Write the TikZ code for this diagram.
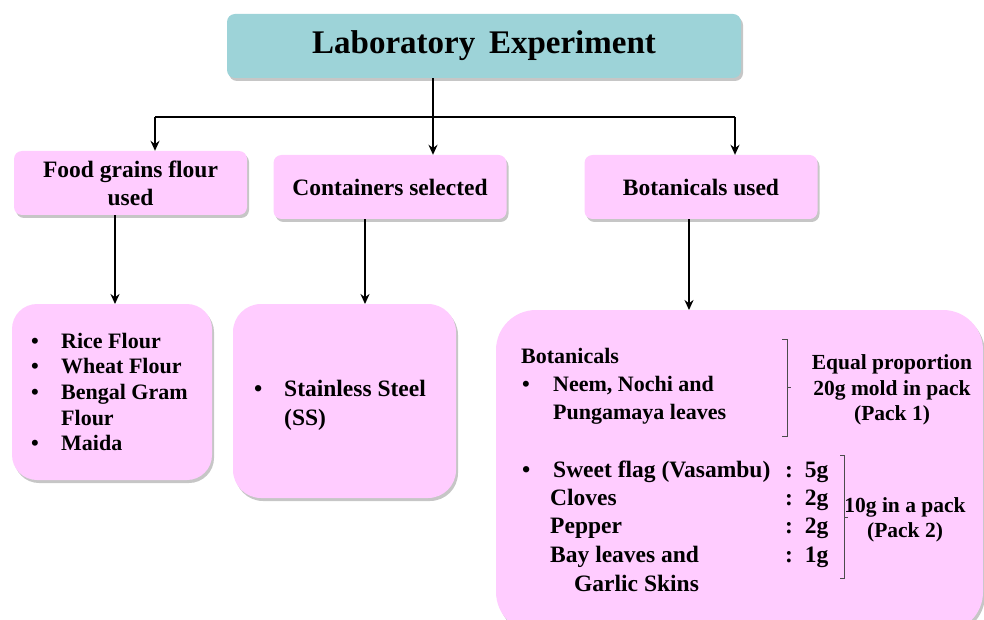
\documentclass[tikz,border=0pt]{standalone}
\usepackage{fontspec}
\setmainfont{Liberation Serif}
\usetikzlibrary{arrows.meta,shadows}
\definecolor{headteal}{HTML}{9DD3D8}
\definecolor{boxpink}{HTML}{FFCCFF}
\begin{document}
\begin{tikzpicture}[x=1pt,y=-1pt,
  shade box/.style={drop shadow={shadow xshift=2pt,shadow yshift=-3pt,opacity=0.45}},
  headbox/.style={shade box,fill=headteal,rounded corners=8pt,minimum width=514pt,minimum height=64pt,
    font=\fontsize{33}{38}\selectfont\bfseries},
  catbox/.style={shade box,fill=boxpink,rounded corners=8pt,minimum width=233pt,minimum height=64pt,
    align=center,font=\fontsize{23.5}{28}\selectfont\bfseries},
  listbox/.style={shade box,fill=boxpink,rounded corners=#1},
  item/.style={anchor=base west,inner sep=0pt,font=\fontsize{22}{26}\selectfont\bfseries},
  bigitem/.style={anchor=base west,inner sep=0pt,font=\fontsize{23.5}{28}\selectfont\bfseries},
  note/.style={anchor=base,inner sep=0pt,font=\fontsize{21.5}{26}\selectfont\bfseries},
  link/.style={line width=2pt,draw=black},
  arrow/.style={link,-{Stealth[length=10pt,width=9pt]}},
  brace/.style={line width=0.8pt,draw=black!70}]
\useasboundingbox (0,0) rectangle (984,620);

% heading and category boxes
\node[headbox] (title) at (484,46) {Laboratory\, Experiment};
\node[catbox] (food) at (130.5,183) {Food grains flour\\used};
\node[catbox] (cont) at (390,187) {Containers selected};
\node[catbox] (bot) at (701,187) {Botanicals used};

% detail boxes
\path[listbox=25pt] (12,304) rectangle (212,480) node[pos=0.5,inner sep=0pt] (flours) {};
\path[listbox=28pt] (233,304) rectangle (456,498) node[pos=0.5,inner sep=0pt] (steel) {};
\path[listbox=40pt] (496,310) rectangle (983,632) node[pos=0.5,inner sep=0pt] (herbs) {};
\coordinate (flourstop) at (112,304);
\coordinate (steeltop) at (344,304);
\coordinate (herbstop) at (739,310);

% branching connectors
\coordinate (hub) at (433,117);
\coordinate (hubl) at (155,117);
\coordinate (hubr) at (735,117);
\draw[link] (title.south -| hub) -- (hub);
\draw[link] (hubl) -- (hubr);
\draw[arrow] (hubl) -- (hubl |- food.north);
\draw[arrow] (hub) -- (hub |- cont.north);
\draw[arrow] (hubr) -- (hubr |- bot.north);

\coordinate (c1) at (115,0);
\coordinate (c2) at (365,0);
\coordinate (c3) at (689,0);
\draw[arrow] (food.south -| c1) -- (flourstop -| c1);
\draw[arrow] (cont.south -| c2) -- (steeltop -| c2);
\draw[arrow] (bot.south -| c3) -- (herbstop -| c3);

% flour list
\node[item] (b1) at (31,348) {•};
\node[item] (f1) at (61,348) {Rice Flour};
\node[item] (b2) at (31,373) {•};
\node[item] (f2) at (61,373) {Wheat Flour};
\node[item] (b3) at (31,399) {•};
\node[item] (f3) at (61,399) {Bengal Gram};
\node[item] (f3b) at (61,425) {Flour};
\node[item] (b4) at (31,450) {•};
\node[item] (f4) at (61,450) {Maida};

% container list
\node[bigitem] (b5) at (254,396) {•};
\node[bigitem] (s1) at (284,396) {Stainless Steel};
\node[bigitem] (s2) at (284,425) {(SS)};

% botanicals, pack 1
\node[item] (h0) at (521,363) {Botanicals};
\node[item] (b6) at (522,391) {•};
\node[item] (h1) at (553,391) {Neem, Nochi and};
\node[item] (h2) at (553,419) {Pungamaya leaves};
\draw[brace] (782,339) -- (787,339) -- (787,436) -- (782,436);
\draw[brace] (787,387) -- (791,387);
\node[note] (p1a) at (892,369) {Equal proportion};
\node[note] (p1b) at (892,395) {20g mold in pack};
\node[note] (p1c) at (892,420) {(Pack 1)};

% botanicals, pack 2
\node[bigitem] (b7) at (522,477) {•};
\node[bigitem] (h3) at (553,477) {Sweet flag (Vasambu)};
\node[bigitem] (h4) at (550,505) {Cloves};
\node[bigitem] (h5) at (550,533) {Pepper};
\node[bigitem] (h6) at (550,562) {Bay leaves and};
\node[bigitem] (h7) at (574,591) {Garlic Skins};
\node[bigitem] (q3) at (785,477) {:\ \ 5g};
\node[bigitem] (q4) at (785,505) {:\ \ 2g};
\node[bigitem] (q5) at (785,533) {:\ \ 2g};
\node[bigitem] (q6) at (785,562) {:\ \ 1g};
\draw[brace] (840,455) -- (844,455) -- (844,578) -- (840,578);
\draw[brace] (844,517) -- (848,517);
\node[note] (p2a) at (905,512) {10g in a pack};
\node[note] (p2b) at (905,537) {(Pack 2)};
\end{tikzpicture}
\end{document}
